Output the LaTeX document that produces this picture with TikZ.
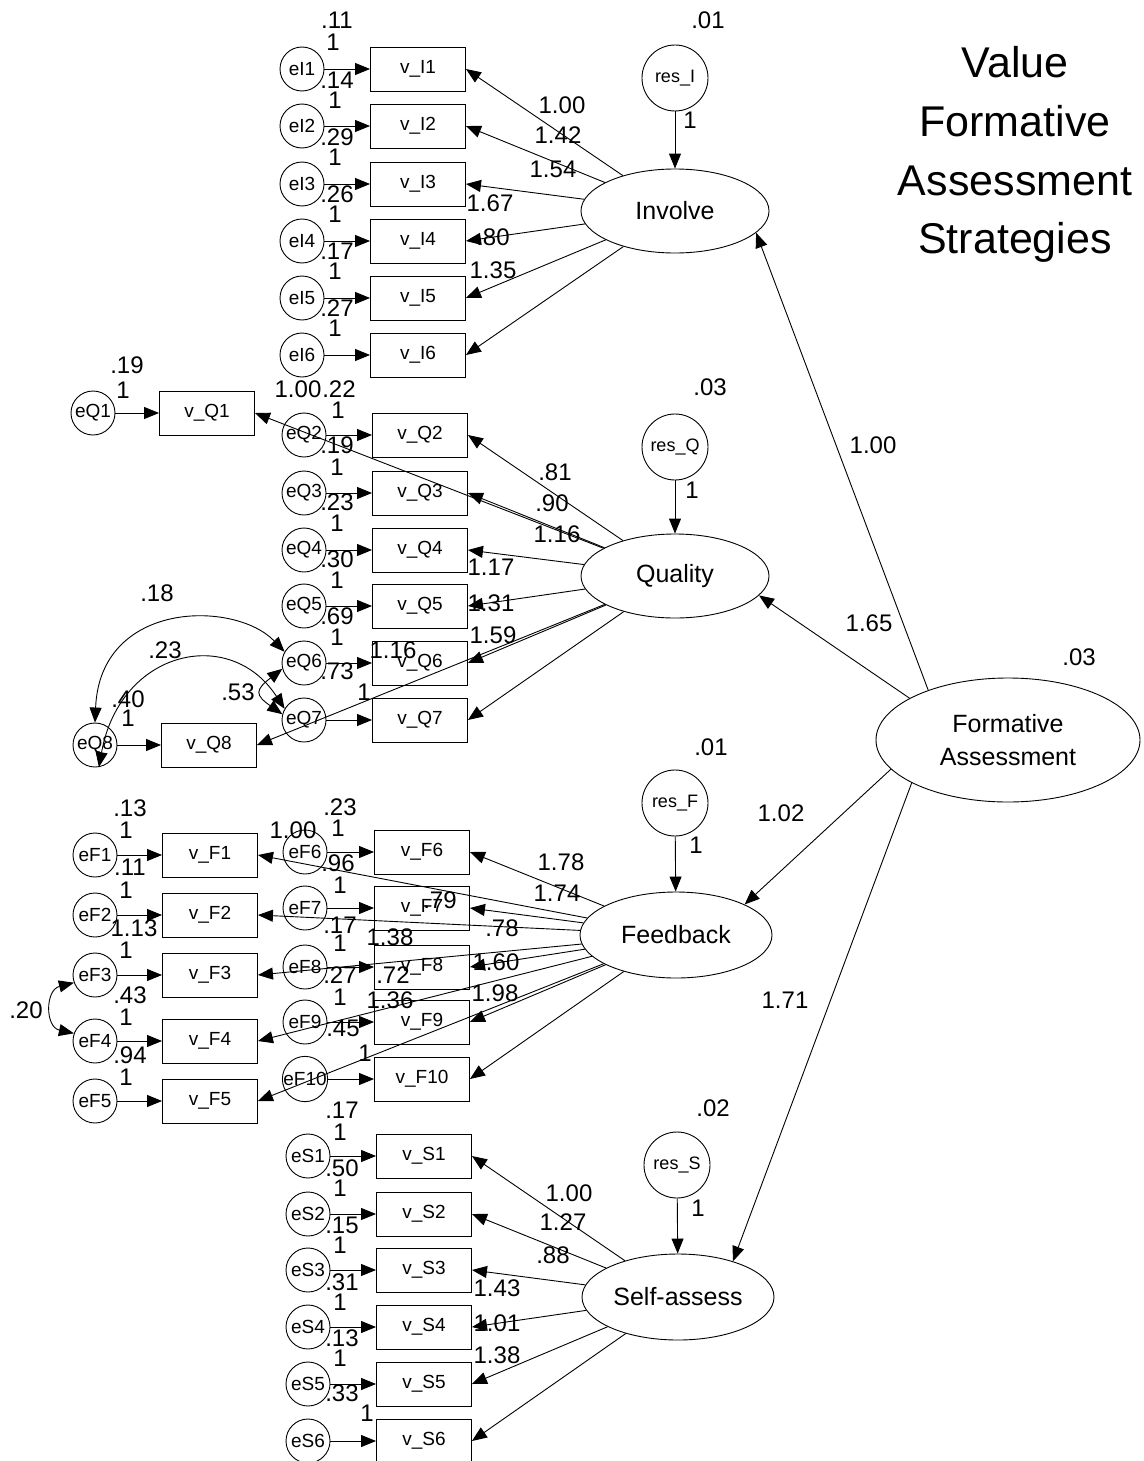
\documentclass[tikz,border=0pt]{standalone}
\usepackage{fontspec}
\setmainfont{Liberation Sans}
\usetikzlibrary{arrows.meta,shapes.geometric}
\begin{document}
\begin{tikzpicture}[x=1pt,y=-1pt,
  every node/.style={font=\fontsize{19}{19}\selectfont},
  obs/.style={draw, rectangle, minimum width=95pt, minimum height=44pt, inner sep=0pt, line width=0.9pt},
  err/.style={draw, circle, minimum size=44pt, inner sep=0pt, line width=0.9pt},
  resid/.style={draw, circle, minimum size=66pt, inner sep=0pt, line width=0.9pt, font=\fontsize{18}{18}\selectfont},
  lat/.style={draw, ellipse, minimum width=188pt, minimum height=84pt, inner sep=0pt, line width=0.9pt, font=\fontsize{25}{25}\selectfont},
  num/.style={inner sep=0pt, font=\fontsize{24}{24}\selectfont},
  ttl/.style={inner sep=0pt, anchor=base, font=\fontsize{43}{43}\selectfont},
  arr/.style={-{Triangle[length=15pt,width=12pt]}, line width=0.9pt},
  dbl/.style={{Triangle[length=15pt,width=12pt]}-{Triangle[length=15pt,width=12pt]}, line width=0.9pt},
]
\useasboundingbox (0,0) rectangle (1143,1461);
\fill[white] (0,0) rectangle (1143,1461);

% Title
\node[ttl] (t1) at (1015,78) {Value};
\node[ttl] (t2) at (1015,137) {Formative};
\node[ttl] (t3) at (1015,195) {Assessment};
\node[ttl] (t4) at (1015,253) {Strategies};

% Latent variables
\node[lat] (Inv) at (675,211) {Involve};
\node[lat] (Qua) at (675,576) {Quality};
\node[lat, minimum width=192pt, minimum height=86pt] (Fee) at (676,935) {Feedback};
\node[lat, minimum width=192pt, minimum height=86pt] (Sel) at (678,1297) {Self-assess};
\node[lat, minimum width=264pt, minimum height=124pt, align=center, font=\fontsize{25}{33}\selectfont] (FA) at (1008,740) {Formative\\Assessment};

\node[resid] (resI) at (675,78) {res\_I};
\node[resid] (resQ) at (675,447) {res\_Q};
\node[resid] (resF) at (675,803) {res\_F};
\node[resid] (resS) at (677,1165) {res\_S};
\draw[arr] (resI) -- (Inv);
\draw[arr] (resQ) -- (Qua);
\draw[arr] (resF) -- (Fee);
\draw[arr] (resS) -- (Sel);

\draw[arr] (FA.148.6) -- (Inv.-15.6);
\draw[arr] (FA.157.2) -- (Qua.-13.4);
\draw[arr] (FA.194.4) -- (Fee.24);
\draw[arr] (FA.204.4) -- (Sel.33);

% Involve indicators
\foreach \i/\y in {1/69,2/126,3/184,4/241,5/298,6/355} {
  \node[obs] (vI\i) at (418,\y) {v\_I\i};
  \node[err] (eI\i) at (302,\y) {eI\i};
  \draw[arr] (eI\i) -- (vI\i);
  \draw[arr] (Inv) -- (vI\i.east);
}

% Quality indicators
\node[obs] (vQ1) at (207,413) {v\_Q1};
\node[err] (eQ1) at (93,413) {eQ1};
\node[obs] (vQ8) at (209,745) {v\_Q8};
\node[err] (eQ8) at (95,745) {eQ8};
\foreach \i/\y in {2/435,3/493,4/550,5/606,6/663,7/720} {
  \node[obs] (vQ\i) at (420,\y) {v\_Q\i};
  \node[err] (eQ\i) at (304,\y) {eQ\i};
}
\foreach \i in {1,...,8} {
  \draw[arr] (eQ\i) -- (vQ\i);
  \draw[arr] (Qua) -- (vQ\i.east);
}
\draw[dbl] (eQ8.north) .. controls (100,600) and (235,600) .. (eQ6.150);
\draw[dbl] (eQ8.-80) .. controls (120,650) and (230,625) .. (eQ7.150);
\draw[dbl] (eQ6.195) .. controls (255,690) and (255,695) .. (eQ7.165);

% Feedback indicators
\foreach \i/\y in {1/855,2/915,3/975,4/1041,5/1101} {
  \node[obs] (vF\i) at (210,\y) {v\_F\i};
  \node[err] (eF\i) at (95,\y) {eF\i};
}
\foreach \i/\y in {6/852,7/908,8/967,9/1022,10/1079} {
  \node[obs] (vF\i) at (422,\y) {v\_F\i};
  \node[err] (eF\i) at (305,\y) {eF\i};
}
\foreach \i in {1,...,10} {
  \draw[arr] (eF\i) -- (vF\i);
  \draw[arr] (Fee) -- (vF\i.east);
}
\draw[dbl] (eF3.200) .. controls (45,990) and (45,1027) .. (eF4.160);

% Self-assess indicators
\foreach \i/\y in {1/1156,2/1214,3/1270,4/1327,5/1384,6/1441} {
  \node[obs] (vS\i) at (424,\y) {v\_S\i};
  \node[err] (eS\i) at (308,\y) {eS\i};
  \draw[arr] (eS\i) -- (vS\i);
  \draw[arr] (Sel) -- (vS\i.east);
}

% Numeric labels
\foreach \x/\y/\t [count=\k] in {
  337/20/.11, 333/42/1, 337/80/.14, 335/100/1, 337/137/.29, 335/157/1,
  337/194/.26, 335/214/1, 337/251/.17, 335/271/1, 337/308/.27, 335/328/1,
  562/105/1.00, 558/135/1.42, 553/169/1.54, 490/203/1.67, 493/237/.80, 493/270/1.35,
  708/20/.01, 690/120/1,
  127/365/.19, 123/390/1, 298/389/1.00, 339/389/.22, 338/410/1, 337/445/.19, 337/467/1,
  337/502/.23, 337/523/1, 337/559/.30, 337/580/1, 337/616/.69, 337/637/1, 337/671/.73, 364/692/1,
  157/593/.18, 165/650/.23, 128/699/.40, 128/718/1, 238/692/.53,
  555/472/.81, 552/503/.90, 557/534/1.16, 491/567/1.17, 491/603/1.31, 493/635/1.59, 393/650/1.16,
  710/387/.03, 692/490/1,
  873/445/1.00, 869/623/1.65, 1079/657/.03, 781/813/1.02, 785/1000/1.71,
  711/747/.01, 696/845/1,
  130/808/.13, 126/830/1, 130/867/.11, 126/890/1, 134/928/1.13, 126/950/1,
  130/995/.43, 126/1017/1, 130/1055/.94, 126/1077/1, 26/1010/.20,
  340/807/.23, 338/828/1, 293/830/1.00, 338/863/.96, 340/885/1, 340/925/.17, 340/943/1,
  340/975/.27, 340/997/1, 343/1028/.45, 365/1053/1,
  561/862/1.78, 557/893/1.74, 440/900/.79, 502/928/.78, 390/937/1.38, 496/962/1.60,
  393/975/.72, 390/1000/1.36, 495/993/1.98,
  713/1108/.02, 698/1208/1,
  342/1110/.17, 340/1132/1, 342/1168/.50, 340/1188/1, 342/1225/.15, 340/1245/1,
  342/1282/.31, 340/1302/1, 342/1338/.13, 340/1358/1, 342/1393/.33, 367/1413/1,
  569/1193/1.00, 563/1222/1.27, 553/1255/.88, 497/1288/1.43, 497/1323/1.01, 497/1355/1.38
} {
  \node[num] (lab\k) at (\x,\y) {\t};
}
\end{tikzpicture}
\end{document}
